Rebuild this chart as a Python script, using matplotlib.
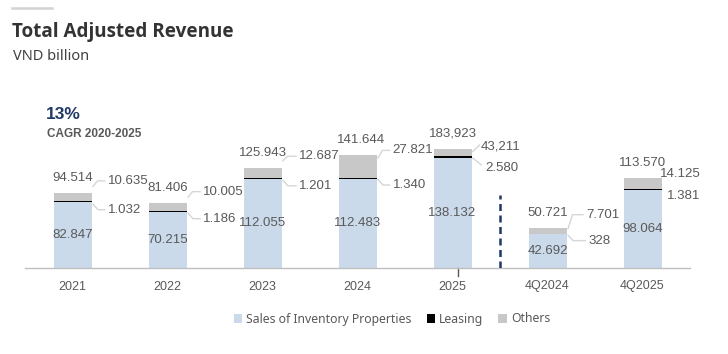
import matplotlib
matplotlib.use("Agg")
import matplotlib.pyplot as plt
from matplotlib.lines import Line2D

# ---------------- data ----------------
categories = ["2021", "2022", "2023", "2024", "2025", "4Q2024", "4Q2025"]
sales = [82.847, 70.215, 112.055, 112.483, 138.132, 42.692, 98.064]
leasing = [1.032, 1.186, 1.201, 1.340, 2.580, 0.328, 1.381]
# "Others" segment heights as drawn in the picture (2025 segment is drawn short)
others = [10.635, 10.005, 12.687, 27.821, 9.2, 7.701, 14.125]

sales_labels = ["82.847", "70.215", "112.055", "112.483", "138.132", "42.692", "98.064"]
leasing_labels = ["1.032", "1.186", "1.201", "1.340", "2.580", "328", "1.381"]
others_labels = ["10.635", "10.005", "12.687", "27.821", "43,211", "7.701", "14.125"]
total_labels = ["94.514", "81.406", "125.943", "141.644", "183,923", "50.721", "113.570"]

series_names = ["Sales of Inventory Properties", "Leasing", "Others"]

# ---------------- layout (pixels) ----------------
W, H, DPI = 728, 354, 100
PX_PER_UNIT = 0.795          # vertical pixels per VND billion unit
PX_PER_CAT = 95.0
others_off = [(16.3, -12), (16.6, -11.6), (17.6, -11.6), (16, -5), (9, -2.3), (19.4, -13), (-1.3, -3.7)]
leasing_off = [(16.3, 8), (16.6, 7), (17.6, 7.4), (16, 7), (13.7, 10.4), (22, 6.7), (5.4, 6.7)]
total_dx = [0, 0, 0, 4, 0, 0, 0]
leader = ["elbow", "elbow", "elbow", "elbow", "diag", "elbow", None]
others_drop = [5.5, 5.5, 4.5, 7.5, 5, 14, 0]

C_SALES = "#CADAEA"
C_LEASE = "#000000"
C_OTHER = "#C8C8C8"
C_TEXT = "#595959"
C_LINE = "#D6D6D6"

fig = plt.figure(figsize=(W / DPI, H / DPI), dpi=DPI)
ax_left, ax_right, ax_base, ax_top = 25, 690, 268, 20
ax = fig.add_axes([ax_left / W, (H - ax_base) / H, (ax_right - ax_left) / W, (ax_base - ax_top) / H])
ax.set_xlim(-0.5, 6.5)
ax.set_ylim(0, (ax_base - ax_top) / PX_PER_UNIT)

DX = 1 / PX_PER_CAT
DY = 1 / PX_PER_UNIT
bw = 0.4
x = list(range(len(categories)))

b1 = ax.bar(x, sales, width=bw, color=C_SALES, zorder=2)
b2 = ax.bar(x, leasing, width=bw, bottom=sales, color=C_LEASE, zorder=2)
bot3 = [s + l for s, l in zip(sales, leasing)]
b3 = ax.bar(x, others, width=bw, bottom=bot3, color=C_OTHER, zorder=2)

for ax_s in ["top", "right", "left"]:
    ax.spines[ax_s].set_visible(False)
ax.spines["bottom"].set_color("#BFBFBF")
ax.spines["bottom"].set_linewidth(1)
ax.set_yticks([])
ax.set_xticks(x)
ax.set_xticklabels(categories, fontsize=9, color=C_TEXT, family="Liberation Sans")
ax.tick_params(axis="x", length=0, pad=9)

lab_font = dict(fontsize=9.5, color=C_TEXT, family="Liberation Sans")

for i in x:
    top = sales[i] + leasing[i] + others[i]
    R = i + bw / 2
    ax.text(i, sales[i] / 2, sales_labels[i], ha="center", va="center", zorder=3, **lab_font)
    ax.text(i + total_dx[i] * DX, top + 15 * DY, total_labels[i], ha="center", va="center", **lab_font)
    odx, ody = others_off[i]
    oLx, oLy = R + odx * DX, top - ody * DY
    ax.text(oLx, oLy, others_labels[i], ha="left", va="center", **lab_font)
    lc = sales[i] + leasing[i] / 2
    ldx, ldy = leasing_off[i]
    lLx, lLy = R + ldx * DX, lc - ldy * DY
    ax.text(lLx, lLy, leasing_labels[i], ha="left", va="center", **lab_font)
    if leader[i] == "elbow":
        ax.plot([R + 1.5 * DX, R + 6 * DX, oLx - 3 * DX],
                [oLy - others_drop[i] * DY, oLy, oLy], color=C_LINE, lw=1, zorder=1)
        ax.plot([R + 1.5 * DX, R + 6.5 * DX, lLx - 3 * DX],
                [lLy + 5.5 * DY, lLy, lLy], color=C_LINE, lw=1, zorder=1)
    elif leader[i] == "diag":
        ax.plot([R + 1.3 * DX, oLx - 1 * DX], [oLy - 5 * DY, oLy + 1.5 * DY], color=C_LINE, lw=1)
        ax.plot([R + 1.3 * DX, lLx - 4 * DX], [lLy + 9.4 * DY, lLy + 2.7 * DY], color=C_LINE, lw=1)

# separator between annual and quarterly
ax.plot([4.5, 4.5], [0, 73 * DY], color="#1F3864", lw=1.8, ls=(0, (2.8, 1.8)), zorder=3)
# small tick under 2025
ax.plot([4.055, 4.055], [0, -8 * DY], color=C_TEXT, lw=1, clip_on=False)

# titles
fig.add_artist(Line2D([12 / W, 52 / W], [1 - 8.3 / H, 1 - 8.3 / H], color="#D3D3D3", lw=1.8))
fig.text(12 / W, 1 - 31.5 / H, "Total Adjusted Revenue", fontsize=13.6, fontweight="bold",
         color="#333333", family="Open Sans", va="center", ha="left")
fig.text(13 / W, 1 - 57 / H, "VND billion", fontsize=10.5, color="#404040",
         family="Noto Sans", va="center", ha="left")
fig.text(46 / W, 1 - 114.5 / H, "13%", fontsize=12.5, fontweight="bold", color="#1F3864",
         family="Liberation Sans", va="center", ha="left")
fig.text(47 / W, 1 - 134 / H, "CAGR 2020-2025", fontsize=8.5, fontweight="bold", color=C_TEXT,
         family="Liberation Sans", va="center", ha="left")

leg = fig.legend([b1, b2, b3], series_names, loc="center", bbox_to_anchor=(392 / W, 1 - 319 / H),
                 ncol=3, frameon=False, handlelength=0.7, handleheight=0.7, handletextpad=0.35,
                 columnspacing=1.2, prop=dict(family="Noto Sans", size=8.8))
for t in leg.get_texts():
    t.set_color(C_TEXT)

fig.savefig("out.png", dpi=DPI)
